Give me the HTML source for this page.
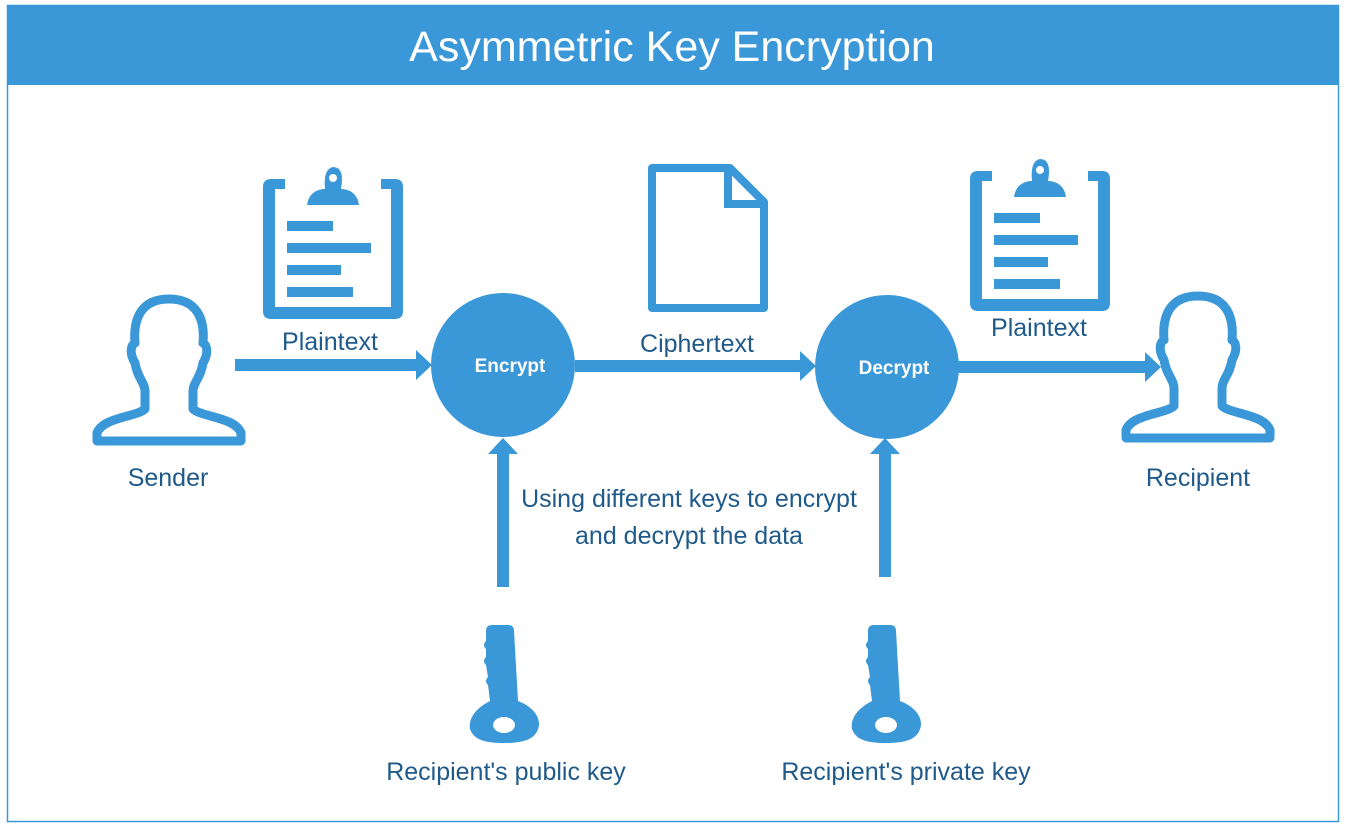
<!DOCTYPE html>
<html><head><style>
body{margin:0;width:1346px;height:830px;background:#fff;overflow:hidden;font-family:"Liberation Sans",sans-serif}
</style></head><body>
<svg width="1346" height="830" xmlns="http://www.w3.org/2000/svg" font-family="Liberation Sans, sans-serif">
<defs>
<g id="clip">
<path d="M22 14 H8 Q0 14 0 22 V146 Q0 154 8 154 H132 Q140 154 140 146 V22 Q140 14 132 14 H118 V24 H128 V142 H12 V24 H22 Z" fill="#3a97d8"/>
<path d="M44 40 Q46 26 60 24 H62 Q60 4 70 2 Q82 2 78 24 H80 Q94 26 96 40 Z" fill="#3a97d8"/>
<circle cx="70" cy="13" r="4" fill="#fff"/>
<rect x="24" y="56" width="46" height="10" fill="#3a97d8"/>
<rect x="24" y="78" width="84" height="10" fill="#3a97d8"/>
<rect x="24" y="100" width="54" height="10" fill="#3a97d8"/>
<rect x="24" y="122" width="66" height="10" fill="#3a97d8"/>
</g>
<g id="person">
<path d="M76 6 C48 6 40 26 42 50 C38 52 36 60 42 70 C44 84 52 90 52 98 L52 116 C44 124 10 124 4 140 L4 148 L148 148 L148 140 C142 124 108 124 100 116 L100 98 C100 90 108 84 110 70 C116 60 114 52 110 50 C112 26 104 6 76 6 Z" fill="none" stroke="#3a97d8" stroke-width="9" stroke-linejoin="round"/>
</g>
<g id="key">
<path d="M22 0 H38 Q44 0 44 6 L48 76 C64 82 72 94 68 104 C64 116 50 118 34 118 C18 118 4 116 0 104 C-2 92 8 82 20 76 L18 60 Q14 56 18 52 L16 40 Q12 36 16 32 L16 24 Q12 20 16 16 L16 6 Q16 0 22 0 Z" fill="#3a97d8"/>
<ellipse cx="34" cy="100" rx="11" ry="8" fill="#fff"/>
</g>
</defs>
<rect x="7.5" y="5.5" width="1331" height="816" fill="none" stroke="#3a97d8" stroke-width="1.5"/>
<rect x="7" y="5" width="1332" height="80" fill="#3a97d8"/>
<text x="672" y="61" text-anchor="middle" font-size="43" fill="#fff">Asymmetric Key Encryption</text>

<use href="#person" x="93" y="293"/>
<use href="#person" x="1122" y="290"/>
<use href="#clip" x="263" y="165"/>
<use href="#clip" x="970" y="157"/>
<path d="M652 168 H730 L764 202 V308 H652 Z" fill="none" stroke="#3a97d8" stroke-width="8" stroke-linejoin="round"/>
<path d="M728 168 V204 H764" fill="none" stroke="#3a97d8" stroke-width="8"/>

<circle cx="503" cy="365" r="72" fill="#3a97d8"/>
<circle cx="887" cy="367" r="72" fill="#3a97d8"/>
<text x="510" y="372" text-anchor="middle" font-size="19" font-weight="bold" fill="#fff">Encrypt</text>
<text x="894" y="374" text-anchor="middle" font-size="19" font-weight="bold" fill="#fff">Decrypt</text>

<g fill="#3a97d8">
<rect x="235" y="359" width="185" height="12"/><path d="M416 350 L432 365 L416 380 Z"/>
<rect x="575" y="360" width="228" height="12"/><path d="M800 351 L816 366 L800 381 Z"/>
<rect x="958" y="361" width="190" height="12"/><path d="M1145 352 L1161 367 L1145 382 Z"/>
<rect x="497" y="452" width="12" height="135"/><path d="M488 454 L503 438 L518 454 Z"/>
<rect x="879" y="452" width="12" height="125"/><path d="M870 454 L885 438 L900 454 Z"/>
</g>
<use href="#key" x="470" y="625"/>
<use href="#key" x="852" y="625"/>

<g fill="#1f5a8a" font-size="25" text-anchor="middle">
<text x="168" y="486">Sender</text>
<text x="1198" y="486">Recipient</text>
<text x="330" y="350">Plaintext</text>
<text x="1039" y="336">Plaintext</text>
<text x="697" y="352">Ciphertext</text>
<text x="689" y="507">Using different keys to encrypt</text>
<text x="689" y="544">and decrypt the data</text>
<text x="506" y="780">Recipient's public key</text>
<text x="906" y="780">Recipient's private key</text>
</g>
</svg>
</body></html>
